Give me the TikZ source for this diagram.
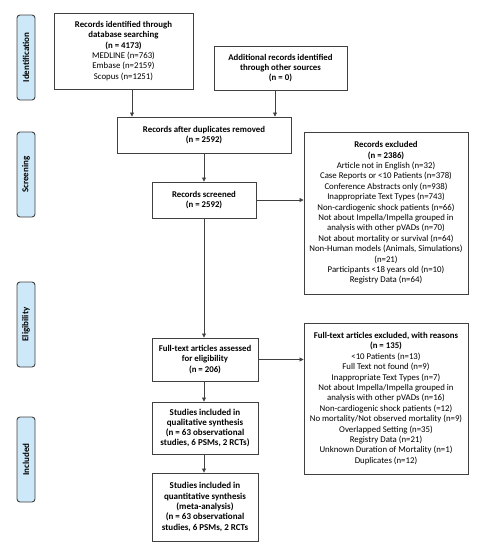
\documentclass[tikz,border=0pt]{standalone}
\usepackage{fontspec}
\setmainfont{Carlito}
\usetikzlibrary{arrows.meta}
\definecolor{edge}{HTML}{404040}
\definecolor{side}{HTML}{CDE8F8}
\tikzset{
  box/.style={draw=edge, line width=0.9pt, fill=white, align=center, inner sep=1pt,
    font=\fontsize{8.8}{10.4}\selectfont},
  sidelabel/.style={draw=edge, line width=0.9pt, fill=side, rounded corners=3pt,
    minimum width=85pt, minimum height=18pt, rotate=90, inner sep=0pt,
    font=\fontsize{9}{10}\selectfont\bfseries},
  arr/.style={draw=edge, line width=0.8pt, -{Triangle[length=4pt,width=4pt]}}
}
\begin{document}
\begin{tikzpicture}[x=1pt,y=-1pt]
\useasboundingbox (0,0) rectangle (480,550);
% side labels
\node[sidelabel] (sid) at (26,57.5) {Identification};
\node[sidelabel] (sscr) at (26,174.5) {Screening};
\node[sidelabel] (selig) at (26,324.5) {Eligibility};
\node[sidelabel] (sinc) at (26,459.5) {Included};
% boxes
\node[box, minimum width=139pt, minimum height=76pt] (b1) at (123.5,51)
  {\textbf{Records identified through}\\\textbf{database searching}\\\textbf{(n = 4173)}\\MEDLINE (n=763)\\Embase (n=2159)\\Scopus (n=1251)};
\node[box, minimum width=133pt, minimum height=44pt] (b2) at (280.5,68)
  {\textbf{Additional records identified}\\\textbf{through other sources}\\\textbf{(n = 0)}};
\node[box, minimum width=174pt, minimum height=36pt] (b3) at (204,135)
  {\textbf{Records after duplicates removed}\\\textbf{(n = 2592)}};
\node[box, minimum width=104pt, minimum height=36pt] (b4) at (204,200)
  {\textbf{Records screened}\\\textbf{(n = 2592)}};
\node[box, minimum width=164pt, minimum height=162pt] (e1) at (386,213)
  {\textbf{Records excluded}\\\textbf{(n = 2386)}\\Article not in English (n=32)\\Case Reports or <10 Patients (n=378)\\Conference Abstracts only (n=938)\\Inappropriate Text Types (n=743)\\Non-cardiogenic shock patients (n=66)\\Not about Impella/Impella grouped in\\analysis with other pVADs (n=70)\\Not about mortality or survival (n=64)\\Non-Human models (Animals, Simulations)\\(n=21)\\Participants <18 years old (n=10)\\Registry Data (n=64)};
\node[box, minimum width=106pt, minimum height=43pt] (b5) at (205,359.5)
  {\textbf{Full-text articles assessed}\\\textbf{for eligibility}\\\textbf{(n = 206)}};
\node[box, minimum width=164pt, minimum height=151pt] (e2) at (386,398.5)
  {\textbf{Full-text articles excluded, with reasons}\\\textbf{(n = 135)}\\<10 Patients (n=13)\\Full Text not found (n=9)\\Inappropriate Text Types (n=7)\\Not about Impella/Impella grouped in\\analysis with other pVADs (n=16)\\Non-cardiogenic shock patients (=12)\\No mortality/Not observed mortality (n=9)\\Overlapped Setting (n=35)\\Registry Data (n=21)\\Unknown Duration of Mortality (n=1)\\Duplicates (n=12)};
\node[box, minimum width=106pt, minimum height=52pt, font=\fontsize{9}{10.3}\selectfont\bfseries] (b6) at (205,428)
  {Studies included in\\qualitative synthesis\\(n = 63 observational\\studies, 6 PSMs, 2 RCTs)};
\node[box, minimum width=106pt, minimum height=68pt, font=\fontsize{9}{10.3}\selectfont\bfseries] (b7) at (205,507)
  {Studies included in\\quantitative synthesis\\(meta-analysis)\\(n = 63 observational\\studies, 6 PSMs, 2 RCTs};
% connectors
\draw[arr] (b1.south -| 132,0) -- (b3.north -| 132,0);
\draw[arr] (b2.south -| 275,0) -- (b3.north -| 275,0);
\draw[arr] (b3.south -| 204,0) -- (b4.north -| 204,0);
\draw[arr] (b4.east) -- (e1.west |- b4.east);
\draw[arr] (b4.south -| 204,0) -- (b5.north -| 204,0);
\draw[arr] (b5.east) -- (e2.west |- b5.east);
\draw[arr] (b5.south -| 204,0) -- (b6.north -| 204,0);
\draw[arr] (b6.south -| 204,0) -- (b7.north -| 204,0);
\end{tikzpicture}
\end{document}
